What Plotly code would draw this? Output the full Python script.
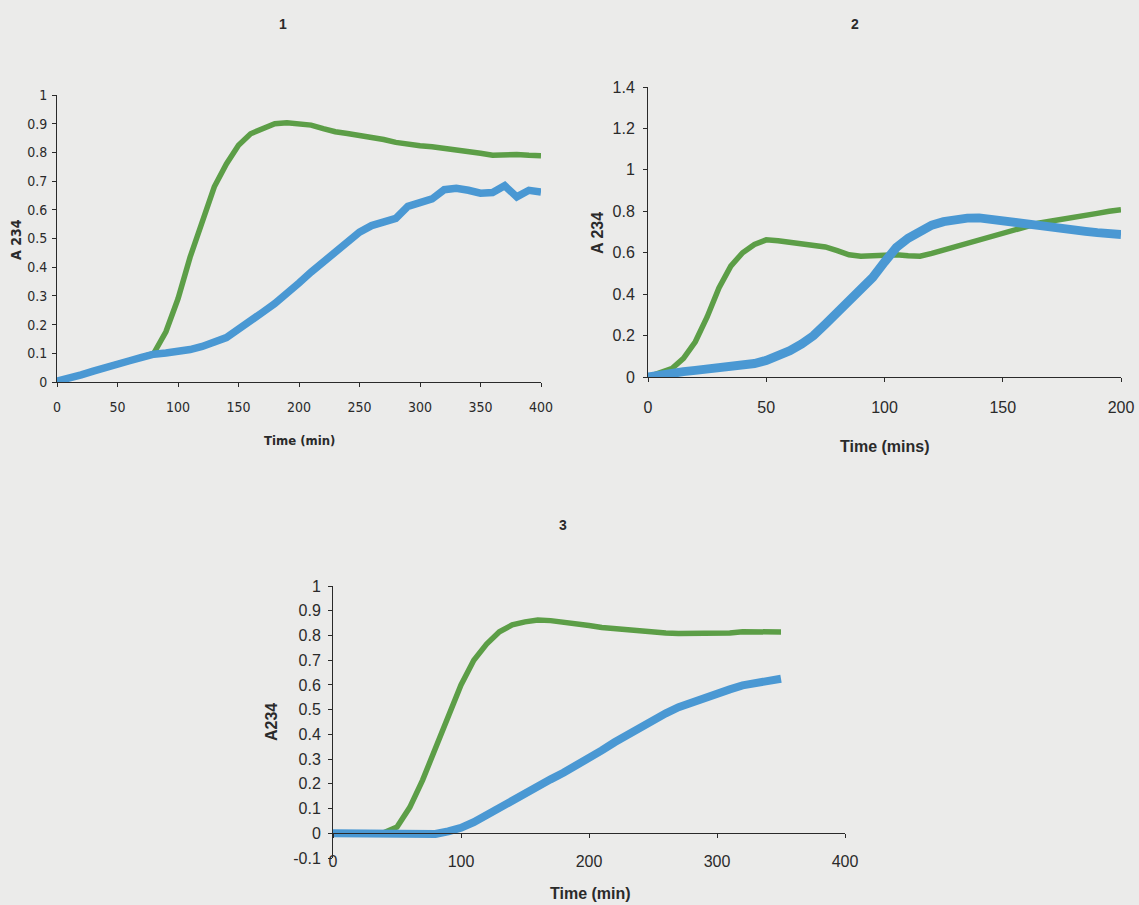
import plotly.graph_objects as go

# ---- Experiment 1 (0-400 min) ----
t1 = [0, 10, 20, 30, 40, 50, 60, 70, 80, 90, 100, 110, 120, 130, 140, 150, 160, 170, 180, 190,
      200, 210, 220, 230, 240, 250, 260, 270, 280, 290, 300, 310, 320, 330, 340, 350, 360, 370,
      380, 390, 400]
a1_green = [0.003, 0.012, 0.025, 0.038, 0.052, 0.063, 0.074, 0.086, 0.100, 0.175, 0.290, 0.435,
            0.565, 0.680, 0.760, 0.825, 0.865, 0.885, 0.900, 0.903, 0.900, 0.895, 0.883, 0.872,
            0.866, 0.860, 0.853, 0.845, 0.835, 0.828, 0.823, 0.820, 0.815, 0.810, 0.805, 0.797,
            0.790, 0.792, 0.793, 0.790, 0.788]
a1_blue = [0.003, 0.012, 0.025, 0.038, 0.052, 0.063, 0.074, 0.086, 0.097, 0.101, 0.105, 0.113,
           0.124, 0.137, 0.155, 0.184, 0.217, 0.243, 0.273, 0.305, 0.345, 0.383, 0.418, 0.452,
           0.492, 0.522, 0.545, 0.560, 0.570, 0.612, 0.623, 0.638, 0.670, 0.675, 0.668, 0.658,
           0.660, 0.684, 0.645, 0.668, 0.662]

# ---- Experiment 2 (0-200 mins) ----
t2 = [0, 5, 10, 15, 20, 25, 30, 35, 40, 45, 50, 55, 60, 65, 70, 75, 80, 85, 90, 95, 100, 105,
      110, 115, 120, 125, 130, 135, 140, 145, 150, 155, 160, 165, 170, 175, 180, 185, 190, 195, 200]
a2_green = [0.000, 0.018, 0.040, 0.090, 0.170, 0.290, 0.430, 0.535, 0.600, 0.640, 0.662, 0.658,
            0.650, 0.643, 0.635, 0.628, 0.610, 0.590, 0.583, 0.585, 0.590, 0.590, 0.585, 0.583,
            0.597, 0.613, 0.630, 0.648, 0.665, 0.682, 0.698, 0.715, 0.730, 0.742, 0.752, 0.760,
            0.768, 0.778, 0.790, 0.800, 0.808]
a2_blue = [0.000, 0.012, 0.020, 0.026, 0.032, 0.038, 0.045, 0.050, 0.056, 0.065, 0.080, 0.100,
           0.127, 0.160, 0.200, 0.255, 0.310, 0.370, 0.425, 0.480, 0.555, 0.625, 0.670, 0.708,
           0.733, 0.750, 0.760, 0.767, 0.768, 0.760, 0.750, 0.742, 0.735, 0.727, 0.720, 0.715,
           0.710, 0.703, 0.697, 0.692, 0.688]

# ---- Experiment 3 (0-350 min) ----
t3 = [0, 10, 20, 30, 40, 50, 60, 70, 80, 90, 100, 110, 120, 130, 140, 150, 160, 170, 180, 190,
      200, 210, 220, 230, 240, 250, 260, 270, 280, 290, 300, 310, 320, 330, 340, 350]
a3_green = [0.000, 0.000, 0.000, 0.000, 0.003, 0.025, 0.105, 0.215, 0.340, 0.475, 0.600, 0.700,
            0.765, 0.815, 0.843, 0.855, 0.862, 0.860, 0.855, 0.850, 0.840, 0.832, 0.827, 0.824,
            0.820, 0.815, 0.810, 0.808, 0.808, 0.810, 0.810, 0.810, 0.815, 0.815, 0.814, 0.814]
a3_blue = [0.000, 0.000, 0.000, 0.000, -0.002, -0.004, -0.005, -0.005, -0.003, 0.008, 0.022,
           0.045, 0.075, 0.105, 0.135, 0.163, 0.190, 0.218, 0.245, 0.272, 0.305, 0.335, 0.368,
           0.398, 0.430, 0.458, 0.485, 0.510, 0.530, 0.550, 0.567, 0.582, 0.598, 0.607, 0.617,
           0.625]

y3_ticks = [-0.1, 0, 0.1, 0.2, 0.3, 0.4, 0.5, 0.6, 0.7, 0.8, 0.9, 1]
y3_labels = ["-0.1", "0", "0.1", "0.2", "0.3", "0.4", "0.5", "0.6", "0.7", "0.8", "0.9", "1"]

GREEN = "#5c9e47"
BLUE = "#4a98d3"
BG = "#ebebea"
INK = "#2a2a2a"

W, H = 1139, 905


def fx(px):
    return px / W


def fy(py):
    return 1 - py / H


NARROW = "DejaVu Sans Condensed, Liberation Sans Narrow, Arial Narrow, sans-serif"
ARIAL = "Liberation Sans, Arial, sans-serif"

fig = go.Figure()

panels = [
    (t1, a1_green, a1_blue, "x", "y", 7.5),
    (t2, a2_green, a2_blue, "x2", "y2", 9),
    (t3, a3_green, a3_blue, "x3", "y3", 8),
]
for t, g, b, xa, ya, bw in panels:
    fig.add_trace(go.Scatter(x=t, y=g, mode="lines", xaxis=xa, yaxis=ya,
                             line=dict(color=GREEN, width=5.5), showlegend=False))
    fig.add_trace(go.Scatter(x=t, y=b, mode="lines", xaxis=xa, yaxis=ya,
                             line=dict(color=BLUE, width=bw), showlegend=False))

axis_common = dict(showgrid=False, zeroline=False, showline=True, linecolor=INK, linewidth=1,
                   ticks="outside", ticklen=4, tickcolor=INK, tickwidth=1, fixedrange=True,
                   automargin=False)

fig.update_layout(
    width=W, height=H,
    margin=dict(l=0, r=0, t=0, b=0, pad=0),
    paper_bgcolor=BG, plot_bgcolor=BG,
    showlegend=False,
    xaxis=dict(domain=[fx(57), fx(541)], range=[0, 400], dtick=50, anchor="y",
               ticklabelstandoff=8,
               tickfont=dict(family=NARROW, size=14, color=INK), **axis_common),
    yaxis=dict(domain=[fy(382), fy(95)], range=[0, 1], dtick=0.1, anchor="x",
               ticklabelstandoff=2,
               tickfont=dict(family=NARROW, size=14, color=INK), **axis_common),
    xaxis2=dict(domain=[fx(648), fx(1121)], range=[0, 200], dtick=50, anchor="y2",
                ticklabelstandoff=12,
                tickfont=dict(family=ARIAL, size=16, color=INK), **axis_common),
    yaxis2=dict(domain=[fy(377), fy(87)], range=[0, 1.4], dtick=0.2, anchor="x2",
                ticklabelstandoff=5,
                tickfont=dict(family=ARIAL, size=16, color=INK), **axis_common),
    xaxis3=dict(domain=[fx(333), fx(845)], range=[0, 400], dtick=100, anchor="free",
                position=fy(833), ticklabelstandoff=10,
                tickfont=dict(family=ARIAL, size=16, color=INK), **axis_common),
    yaxis3=dict(domain=[fy(858), fy(586)], range=[-0.1, 1], tickmode="array",
                tickvals=y3_ticks, ticktext=y3_labels, anchor="x3", ticklabelstandoff=4,
                tickfont=dict(family=ARIAL, size=16, color=INK), **axis_common),
)

ann = [
    ("<b>1</b>", 283, 24, 0, dict(family=ARIAL, size=14, color=INK)),
    ("<b>2</b>", 855, 24, 0, dict(family=ARIAL, size=14, color=INK)),
    ("<b>3</b>", 563, 525, 0, dict(family=ARIAL, size=14, color=INK)),
    ("<b>Time (min)</b>", 299, 440, 0, dict(family=NARROW, size=13, color=INK)),
    ("<b>A 234</b>", 16, 240, -90, dict(family=NARROW, size=14, color=INK)),
    ("<b>Time (mins)</b>", 885, 446, 0, dict(family=ARIAL, size=16, color=INK)),
    ("<b>A 234</b>", 597, 233, -90, dict(family=ARIAL, size=16, color=INK)),
    ("<b>Time (min)</b>", 590, 893, 0, dict(family=ARIAL, size=16, color=INK)),
    ("<b>A234</b>", 271, 722, -90, dict(family=ARIAL, size=16, color=INK)),
]
for text, px, py, ang, font in ann:
    fig.add_annotation(text=text, x=fx(px), y=fy(py), xref="paper", yref="paper",
                       xanchor="center", yanchor="middle", textangle=ang,
                       showarrow=False, font=font)

fig.write_html("out.html")
